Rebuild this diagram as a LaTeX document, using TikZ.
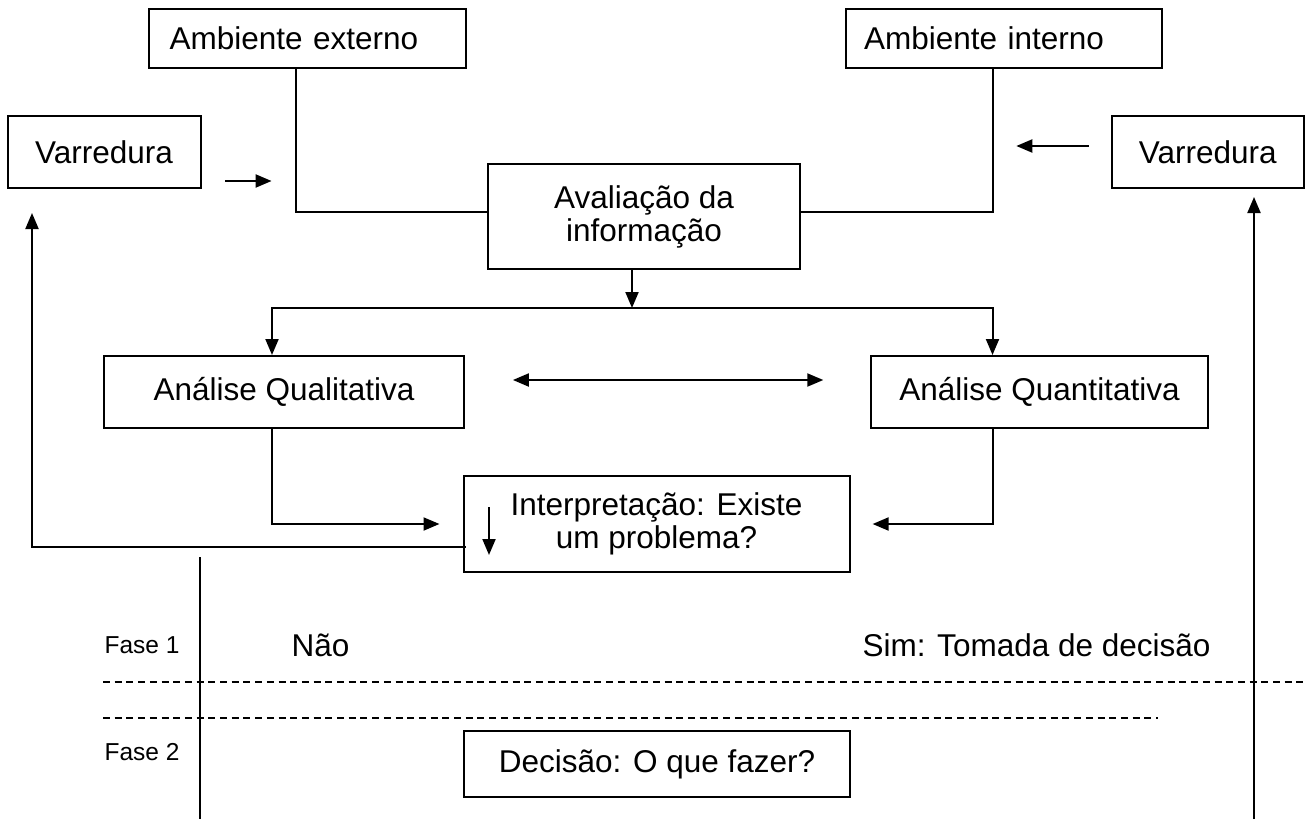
\documentclass[tikz,border=0pt]{standalone}
\usepackage{fontspec}
\setmainfont{Liberation Sans}
\usetikzlibrary{arrows.meta}
\begin{document}
\begin{tikzpicture}[x=1pt,y=-1pt,
  line width=2pt,
  box/.style={draw, rectangle, inner sep=0pt, font=\fontsize{31.5}{33}\selectfont, align=center},
  big/.style={inner sep=0pt, font=\fontsize{31.5}{33}\selectfont},
  small/.style={inner sep=0pt, font=\fontsize{24.5}{29}\selectfont},
  arr/.style={-{Triangle[length=16pt,width=13pt]}},
  darr/.style={{Triangle[length=16pt,width=13pt]}-{Triangle[length=16pt,width=13pt]}},
  dashline/.style={dash pattern=on 7pt off 4.7pt}
]
\useasboundingbox (0,0) rectangle (1305,819);

% boxes
\node[box, minimum width=313.5pt, minimum height=59pt, text width=275pt, align=left, inner xsep=21pt] (ext) at (307,38.5) {Ambiente externo};
\node[box, minimum width=313pt, minimum height=59pt, text width=280pt, align=left, inner xsep=18pt] (int) at (1004,38.5) {Ambiente interno};
\node[box, minimum width=193pt, minimum height=72pt] (varL) at (104,152) {Varredura};
\node[box, minimum width=192pt, minimum height=72pt] (varR) at (1207.7,152) {Varredura};
\node[box, minimum width=312pt, minimum height=105pt] (aval) at (644,216.5) {Avaliação da\\informação};
\node[box, minimum width=360.7pt, minimum height=72pt] (qual) at (284,392) {Análise Qualitativa};
\node[box, minimum width=337pt, minimum height=72pt] (quant) at (1039.5,392) {Análise Quantitativa};
\node[box, minimum width=386pt, minimum height=96pt] (interp) at (656.5,524) {Interpretação: Existe\\um problema?};
\node[box, minimum width=386pt, minimum height=66pt] (dec) at (657,764) {Decisão: O que fazer?};

% texts
\node[small] (fase1) at (142,645) {Fase 1};
\node[small] (fase2) at (142,752) {Fase 2};
\node[big] (nao) at (320.5,645) {Não};
\node[big] (sim) at (1036.5,645) {Sim: Tomada de decisão};

% coordinates for free ends
\coordinate (a1s) at (225,181);
\coordinate (a1e) at (271.6,181);
\coordinate (a2s) at (1088.6,146);
\coordinate (a2e) at (1016.3,146);
\coordinate (bus) at (632,308);
\coordinate (dl) at (512.9,380);
\coordinate (dr) at (823.3,380);
\coordinate (qin) at (439.5,524);
\coordinate (qout) at (872.6,524);
\coordinate (fbL) at (32,213);
\coordinate (sas) at (489,507);
\coordinate (sae) at (489,555);
\coordinate (vlt) at (200,557);
\coordinate (vlb) at (200,819);
\coordinate (vrb) at (1254,819);
\coordinate (vrt) at (1254,197);
\coordinate (d1s) at (103,682);
\coordinate (d1e) at (1305,682);
\coordinate (d2s) at (103,718);
\coordinate (d2e) at (1158,718);

% connectors
\draw ([xshift=-11pt]ext.south) |- ([yshift=4.5pt]aval.west);
\draw ([xshift=-11.5pt]int.south) |- ([yshift=4.5pt]aval.east);
\draw[arr] (a1s) -- (a1e);
\draw[arr] (a2s) -- (a2e);
\draw[arr] ([xshift=-12pt]aval.south) -- (bus);
\draw[arr] (bus) -| ([xshift=-12pt]qual.north);
\draw[arr] (bus) -| ([xshift=-47pt]quant.north);
\draw[darr] (dl) -- (dr);
\draw[arr] ([xshift=-12pt]qual.south) |- (qin);
\draw[arr] ([xshift=-47pt]quant.south) |- (qout);
\draw[arr] ([shift={(3pt,-23pt)}]interp.west) -| (fbL);
\draw[arr] (sas) -- (sae);
\draw (vlt) -- (vlb);
\draw[arr] (vrb) -- (vrt);
\draw[dashline] (d1s) -- (d1e);
\draw[dashline] (d2s) -- (d2e);
\end{tikzpicture}
\end{document}
